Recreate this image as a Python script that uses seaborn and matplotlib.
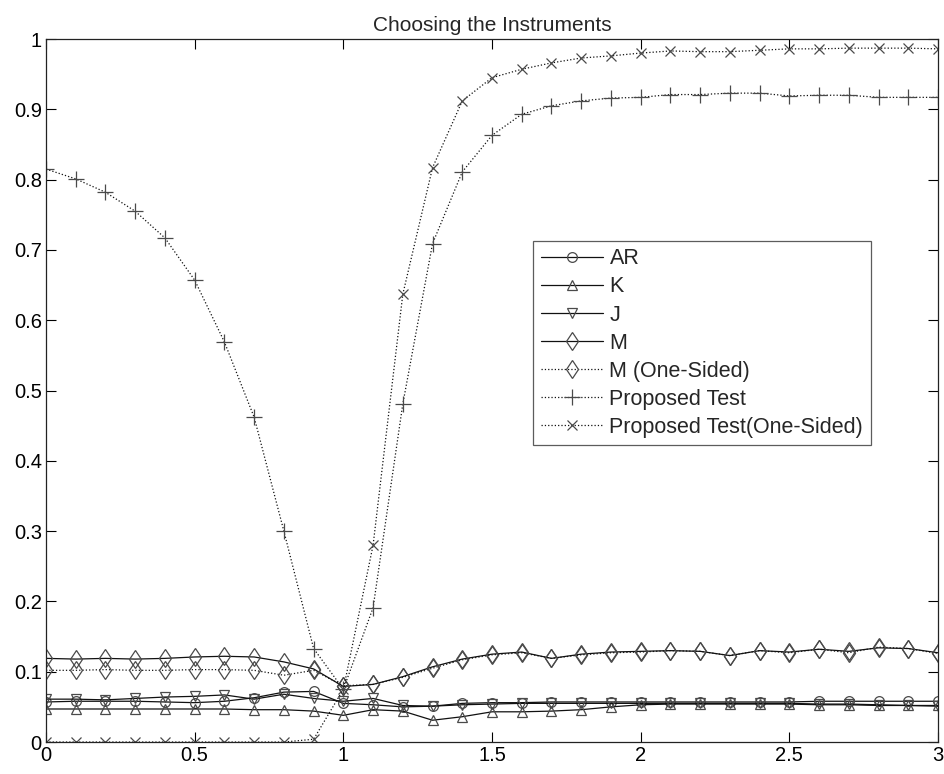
import numpy as np
import pandas as pd
import matplotlib
matplotlib.use("Agg")
import matplotlib.pyplot as plt
import seaborn as sns
from matplotlib.ticker import FuncFormatter

# x grid (0 to 3 in steps of 0.1)
x = [0.0, 0.1, 0.2, 0.3, 0.4, 0.5, 0.6, 0.7, 0.8, 0.9, 1.0,
     1.1, 1.2, 1.3, 1.4, 1.5, 1.6, 1.7, 1.8, 1.9, 2.0,
     2.1, 2.2, 2.3, 2.4, 2.5, 2.6, 2.7, 2.8, 2.9, 3.0]

ar = [0.057, 0.058, 0.058, 0.058, 0.057, 0.056, 0.058, 0.063, 0.071, 0.072, 0.055,
      0.053, 0.050, 0.051, 0.055, 0.056, 0.056, 0.057, 0.057, 0.057, 0.057,
      0.057, 0.057, 0.057, 0.057, 0.057, 0.058, 0.058, 0.058, 0.058, 0.058]
k = [0.047, 0.047, 0.047, 0.047, 0.047, 0.047, 0.047, 0.046, 0.046, 0.044, 0.038,
     0.046, 0.044, 0.031, 0.036, 0.043, 0.043, 0.044, 0.046, 0.050, 0.053,
     0.054, 0.054, 0.054, 0.054, 0.054, 0.053, 0.053, 0.052, 0.052, 0.052]
j = [0.061, 0.061, 0.060, 0.062, 0.064, 0.065, 0.067, 0.061, 0.068, 0.062, 0.058,
     0.062, 0.052, 0.051, 0.053, 0.054, 0.055, 0.055, 0.055, 0.055, 0.055,
     0.055, 0.055, 0.055, 0.055, 0.055, 0.054, 0.054, 0.053, 0.052, 0.051]
m = [0.119, 0.118, 0.119, 0.118, 0.119, 0.121, 0.122, 0.121, 0.114, 0.104, 0.079,
     0.082, 0.093, 0.107, 0.118, 0.125, 0.128, 0.119, 0.125, 0.128, 0.129,
     0.130, 0.129, 0.123, 0.130, 0.128, 0.132, 0.129, 0.134, 0.133, 0.127]
m_one = [0.102, 0.102, 0.103, 0.102, 0.102, 0.103, 0.103, 0.102, 0.095, 0.102, 0.080,
         0.082, 0.092, 0.105, 0.117, 0.124, 0.127, 0.119, 0.124, 0.127, 0.128,
         0.130, 0.129, 0.123, 0.130, 0.127, 0.132, 0.127, 0.135, 0.133, 0.126]
prop = [0.815, 0.801, 0.782, 0.755, 0.717, 0.657, 0.569, 0.462, 0.300, 0.133, 0.075,
        0.191, 0.481, 0.709, 0.811, 0.863, 0.893, 0.905, 0.912, 0.916, 0.917,
        0.921, 0.921, 0.923, 0.923, 0.919, 0.920, 0.920, 0.917, 0.917, 0.917]
prop_one = [0.0, 0.0, 0.0, 0.0, 0.0, 0.0, 0.0, 0.0, 0.0, 0.004, 0.075,
            0.280, 0.637, 0.817, 0.912, 0.945, 0.957, 0.966, 0.973, 0.976, 0.980,
            0.983, 0.982, 0.982, 0.984, 0.986, 0.986, 0.987, 0.987, 0.987, 0.986]

labels = ["AR", "K", "J", "M", "M (One-Sided)", "Proposed Test", "Proposed Test(One-Sided)"]
series = [ar, k, j, m, m_one, prop, prop_one]
markers = ["o", "^", "v", "d", "d", "+", "x"]
styles = ["-", "-", "-", "-", ":", ":", ":"]
sizes = [7, 7, 7, 9.5, 9.5, 11, 7]

sns.set_style("ticks")
plt.rcParams["font.family"] = ["Liberation Sans", "DejaVu Sans"]

fig = plt.figure(figsize=(9.45, 7.74), dpi=100)
ax = fig.add_axes([0.0487, 0.0413, 0.9439, 0.9083])

for vals, lab, mk, ls, ms in zip(series, labels, markers, styles, sizes):
    df = pd.DataFrame({"x": x, "y": vals})
    sns.lineplot(data=df, x="x", y="y", ax=ax, label=lab, color="#111111",
                 linestyle=ls, linewidth=0.9, marker=mk, markersize=ms,
                 markerfacecolor="none", markeredgecolor="#4a4a4a",
                 markeredgewidth=0.9)

ax.set_xlim(0, 3)
ax.set_ylim(0, 1)
ax.set_xticks([0, 0.5, 1, 1.5, 2, 2.5, 3])
ax.set_yticks(np.round(np.arange(0, 1.01, 0.1), 1))
fmt = FuncFormatter(lambda v, p: f"{v:g}")
ax.xaxis.set_major_formatter(fmt)
ax.yaxis.set_major_formatter(fmt)
ax.tick_params(direction="in", top=True, right=True, length=7, width=0.8,
               labelsize=14.5, colors="black", pad=3)
for s in ax.spines.values():
    s.set_visible(True)
    s.set_color("#222222")
    s.set_linewidth(0.9)
ax.set_xlabel("")
ax.set_ylabel("")
ax.set_title("Choosing the Instruments", fontsize=15, pad=6)

leg = ax.legend(loc="upper left", bbox_to_anchor=(0.546, 0.713), fontsize=15.5,
                frameon=True, fancybox=False, edgecolor="#333333",
                handlelength=2.9, labelspacing=0.33, borderpad=0.35,
                handletextpad=0.3, borderaxespad=0)
leg.get_frame().set_linewidth(0.9)

fig.savefig("out.png", dpi=100)
